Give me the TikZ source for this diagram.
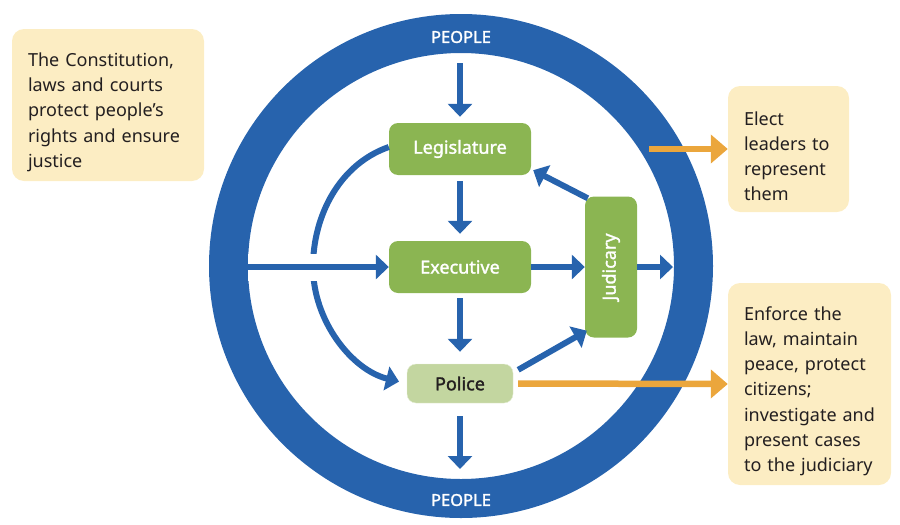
\documentclass[tikz,border=0pt]{standalone}
\usepackage{fontspec}
\setmainfont{Noto Sans}[BoldFont={Noto Sans}, BoldFeatures={FakeBold=1.6}]
\usetikzlibrary{arrows.meta}
\definecolor{govblue}{HTML}{2763AD}
\definecolor{govgreen}{HTML}{8BB552}
\definecolor{palegreen}{HTML}{C3D6A0}
\definecolor{govorange}{HTML}{EBA63C}
\definecolor{noteyellow}{HTML}{FCEDC3}
\definecolor{inkgrey}{HTML}{231F20}
\tikzstyle{block} = [rectangle, rounded corners=9pt, fill=govgreen, text=white,
    font=\fontsize{18}{20}\selectfont\bfseries, minimum height=52pt, minimum width=142pt]
\tikzstyle{lightblock} = [block, fill=palegreen, draw=white!55!palegreen, text=inkgrey,
    minimum height=39pt, minimum width=106pt]
\tikzstyle{note} = [rectangle, rounded corners=12pt, fill=noteyellow, text=inkgrey,
    align=left, inner xsep=16pt, font=\fontsize{18}{25.2}\selectfont,
    execute at begin node={\rule{0pt}{28pt}}]
\tikzstyle{ringlabel} = [text=white, font=\fontsize{16.5}{18}\selectfont\bfseries]
\tikzstyle{line} = [draw=govblue, line width=6pt, -{Triangle[width=24pt,length=13pt]}]
\tikzstyle{hint} = [draw=govorange, line width=6.5pt, -{Triangle[width=28pt,length=17pt]}]

\begin{document}
\begin{tikzpicture}[x=1pt, y=-1pt, node distance=118pt, auto]
    \useasboundingbox (0,0) rectangle (900,525);

    \draw [govblue, line width=39pt] (461,266) circle [radius=232.5pt];
    \node [ringlabel] (ptoplabel) at (461,37) {PEOPLE};
    \node [ringlabel] (pbotlabel) at (461,500) {PEOPLE};

    \coordinate (ptop) at (460,63);
    \coordinate (pbot) at (460,469);
    \coordinate (ringW) at (248,267);
    \coordinate (ringE) at (673,267);
    \coordinate (arcL) at (313,267);
    \coordinate (vote) at (649,149);

    \node [block] (leg) at (460,149) {Legislature};
    \node [block, below of=leg] (exe) {Executive};
    \node [lightblock, below of=exe, node distance=116.5pt] (pol) {Police};
    \node [block, right of=exe, node distance=151pt, minimum width=141pt,
        minimum height=52pt, rotate=90] (jud) {Judicary};

    \path [line] (ptop) -- ([yshift=6pt]leg.north);
    \path [line, shorten <=6pt, shorten >=7pt] (leg.south) -- (exe.north);
    \path [line, shorten <=5pt, shorten >=12pt] (exe.south) -- (pol.north);
    \path [line, shorten <=13pt] (pol.south) -- (pbot);

    \path [line, shorten >=8pt] ([yshift=2pt]leg.west) .. controls (340,164) and (313,215) .. (arcL)
        .. controls (313,321) and (352,370) .. (pol.west);
    \draw [white, line width=27pt] (ringW) -- (exe.west);
    \path [line] (ringW) -- (exe.west);

    \path [line] (exe.east) -- (jud.north);
    \path [line] (jud.south) -- (ringE);
    \path [line] ([xshift=3pt, yshift=-2pt]jud.north east) -- ([xshift=2pt, yshift=5pt]leg.south east);
    \path [line] ([xshift=5pt, yshift=-6pt]pol.north east) -- ([xshift=2pt, yshift=7pt]jud.north west);

    \node [note, text width=160pt, minimum height=152pt] (cnote) at (108,105)
        {The Constitution,\\laws and courts\\protect people’s\\rights and ensure\\justice};
    \node [note, text width=89pt, minimum height=126pt] (enote) at (788.5,149)
        {Elect\\leaders to\\represent\\them};
    \node [note, text width=131pt, minimum height=202pt] (pnote) at (809.5,384)
        {Enforce the\\law, maintain\\peace, protect\\citizens;\\investigate and\\present cases\\to the judiciary};

    \path [hint] (vote) -- (enote.west);
    \path [hint, shorten <=5pt] (pol.east) -- (pnote.west);

\end{tikzpicture}
\end{document}
